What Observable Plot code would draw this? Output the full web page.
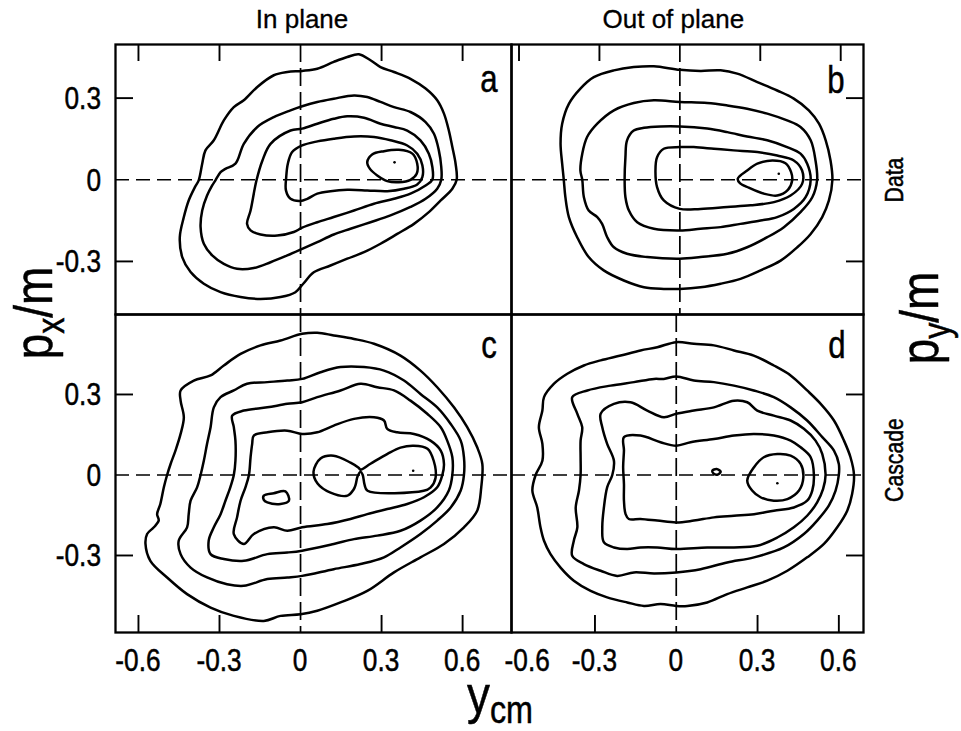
<!DOCTYPE html>
<html><head><meta charset="utf-8">
<script src="https://cdn.jsdelivr.net/npm/d3@7"></script>
<script src="https://cdn.jsdelivr.net/npm/@observablehq/plot@0.6"></script>
<style>
body{margin:0;background:#fff;}
#fig{position:relative;width:961px;height:731px;overflow:hidden;background:#fff;}
</style></head><body><div id="fig"></div><script>
// ---- tick values and labels ----
const xTickValues = [-0.6, -0.3, 0.3, 0.6];
const yTickValues = [0.3, -0.3];
const xTickLabels = ["-0.6", "-0.3", "0", "0.3", "0.6"];
const xTickLabelValues = [-0.6, -0.3, 0, 0.3, 0.6];
const yTickLabels = ["0.3", "0", "-0.3"];
const yTickLabelValues = [0.3, 0, -0.3];
const columnTitles = ["In plane", "Out of plane"];
const rowTitles = ["Data", "Cascade"];
const panelLetters = ["a", "b", "c", "d"];

// ---- panel a : data, in plane (contours, outermost first) ----
const a1 = [[0.216,0.461],[0.259,0.439],[0.296,0.414],[0.346,0.396],[0.407,0.371],[0.463,0.335],[0.506,0.292],[0.531,0.243],[0.549,0.181],[0.562,0.120],[0.574,0.059],[0.578,0],[0.562,-0.033],[0.519,-0.076],[0.475,-0.119],[0.420,-0.162],[0.358,-0.199],[0.296,-0.235],[0.235,-0.266],[0.173,-0.290],[0.111,-0.315],[0.049,-0.340],[0.010,-0.382],[-0.019,-0.413],[-0.074,-0.431],[-0.148,-0.438],[-0.222,-0.431],[-0.296,-0.413],[-0.358,-0.382],[-0.407,-0.339],[-0.438,-0.284],[-0.447,-0.211],[-0.432,-0.137],[-0.414,-0.076],[-0.391,-0.027],[-0.377,-0.002],[-0.364,0.059],[-0.352,0.108],[-0.321,0.145],[-0.284,0.218],[-0.247,0.267],[-0.210,0.292],[-0.160,0.341],[-0.099,0.384],[-0.049,0.396],[0.006,0.400],[0.062,0.408],[0.123,0.433],[0.173,0.451]];
const a2 = [[0.006,0.270],[0.062,0.286],[0.123,0.298],[0.198,0.310],[0.247,0.304],[0.296,0.286],[0.346,0.267],[0.407,0.249],[0.463,0.212],[0.494,0.169],[0.512,0.108],[0.521,0.047],[0.521,0],[0.506,-0.033],[0.463,-0.070],[0.407,-0.100],[0.333,-0.131],[0.259,-0.156],[0.185,-0.180],[0.123,-0.201],[0.062,-0.229],[0.006,-0.254],[-0.049,-0.278],[-0.111,-0.303],[-0.173,-0.324],[-0.235,-0.327],[-0.284,-0.309],[-0.327,-0.278],[-0.358,-0.235],[-0.370,-0.174],[-0.364,-0.113],[-0.346,-0.058],[-0.327,-0.021],[-0.315,-0.002],[-0.296,0.028],[-0.278,0.040],[-0.241,0.059],[-0.210,0.132],[-0.160,0.194],[-0.099,0.230],[-0.037,0.255]];
const a3 = [[0.006,0.188],[0.062,0.206],[0.123,0.224],[0.173,0.233],[0.235,0.228],[0.296,0.206],[0.346,0.194],[0.395,0.181],[0.444,0.145],[0.475,0.096],[0.488,0.047],[0.488,0],[0.463,-0.021],[0.407,-0.051],[0.346,-0.070],[0.272,-0.088],[0.198,-0.113],[0.123,-0.137],[0.062,-0.156],[0.006,-0.176],[-0.025,-0.192],[-0.086,-0.205],[-0.148,-0.201],[-0.185,-0.186],[-0.198,-0.162],[-0.185,-0.113],[-0.163,-0.002],[-0.141,0.071],[-0.111,0.132],[-0.037,0.181]];
const a4 = [[0.006,0.126],[0.062,0.141],[0.123,0.151],[0.198,0.159],[0.272,0.157],[0.333,0.145],[0.395,0.126],[0.432,0.096],[0.451,0.053],[0.451,0.010],[0.432,-0.017],[0.383,-0.033],[0.321,-0.042],[0.247,-0.039],[0.173,-0.037],[0.111,-0.042],[0.062,-0.051],[0.025,-0.070],[0,-0.078],[-0.037,-0.070],[-0.054,-0.039],[-0.053,0.010],[-0.047,0.059],[-0.031,0.102]];
const a5 = [[0.247,0.065],[0.265,0.093],[0.309,0.105],[0.364,0.110],[0.414,0.096],[0.432,0.059],[0.430,0.022],[0.407,0],[0.364,-0.009],[0.321,-0.005],[0.284,0.016],[0.257,0.040]];
const aDots = [[0.348,0.064]];

// ---- panel b : data, out of plane ----
const b1 = [[0,0.404],[0.077,0.400],[0.152,0.402],[0.214,0.390],[0.289,0.359],[0.363,0.328],[0.425,0.298],[0.481,0.255],[0.519,0.206],[0.544,0.145],[0.562,0.071],[0.569,0],[0.556,-0.076],[0.531,-0.137],[0.488,-0.199],[0.438,-0.248],[0.376,-0.297],[0.301,-0.333],[0.226,-0.364],[0.152,-0.382],[0.077,-0.395],[0,-0.401],[-0.060,-0.401],[-0.134,-0.395],[-0.209,-0.370],[-0.284,-0.333],[-0.340,-0.284],[-0.383,-0.211],[-0.414,-0.137],[-0.427,-0.064],[-0.433,0],[-0.439,0.059],[-0.445,0.132],[-0.439,0.206],[-0.414,0.279],[-0.371,0.335],[-0.321,0.377],[-0.246,0.402],[-0.172,0.414],[-0.097,0.417]];
const b2 = [[0,0.286],[-0.097,0.292],[-0.172,0.282],[-0.246,0.255],[-0.308,0.206],[-0.346,0.157],[-0.364,0.096],[-0.371,0.034],[-0.364,0],[-0.358,-0.064],[-0.340,-0.113],[-0.308,-0.137],[-0.290,-0.162],[-0.271,-0.211],[-0.246,-0.248],[-0.197,-0.272],[-0.122,-0.284],[0,-0.290],[0.077,-0.284],[0.177,-0.272],[0.251,-0.248],[0.326,-0.211],[0.388,-0.174],[0.450,-0.119],[0.494,-0.064],[0.512,0],[0.506,0.071],[0.488,0.145],[0.450,0.194],[0.400,0.218],[0.326,0.243],[0.251,0.261],[0.177,0.273],[0.102,0.282]];
const b3 = [[0,0.196],[-0.072,0.196],[-0.134,0.191],[-0.172,0.181],[-0.197,0.145],[-0.203,0.083],[-0.206,0],[-0.203,-0.064],[-0.190,-0.113],[-0.159,-0.156],[-0.097,-0.180],[0,-0.186],[0.077,-0.180],[0.152,-0.174],[0.226,-0.162],[0.301,-0.150],[0.363,-0.137],[0.425,-0.107],[0.469,-0.064],[0.488,0],[0.475,0.059],[0.450,0.096],[0.400,0.120],[0.326,0.145],[0.251,0.159],[0.177,0.175],[0.102,0.188]];
const b4 = [[0,0.120],[-0.060,0.114],[-0.085,0.083],[-0.091,0.034],[-0.085,-0.027],[-0.060,-0.076],[0,-0.107],[0.077,-0.107],[0.177,-0.100],[0.264,-0.094],[0.351,-0.082],[0.413,-0.058],[0.456,-0.015],[0.456,0.034],[0.425,0.071],[0.363,0.089],[0.289,0.102],[0.201,0.108],[0.127,0.114],[0.052,0.120]];
const b5 = [[0.216,0.004],[0.251,0.034],[0.289,0.059],[0.345,0.071],[0.394,0.061],[0.415,0.028],[0.419,-0.002],[0.403,-0.037],[0.363,-0.058],[0.313,-0.051],[0.257,-0.029],[0.224,-0.012]];
const bDots = [[0.369,0.022]];

// ---- panel c : cascade, in plane ----
const c1 = [[0.006,0.526],[0.062,0.530],[0.123,0.520],[0.198,0.507],[0.272,0.489],[0.370,0.445],[0.444,0.389],[0.506,0.327],[0.568,0.252],[0.617,0.178],[0.654,0.103],[0.673,0.041],[0.669,-0.046],[0.654,-0.133],[0.605,-0.195],[0.531,-0.257],[0.444,-0.307],[0.346,-0.363],[0.247,-0.432],[0.148,-0.475],[0.062,-0.506],[0,-0.519],[-0.074,-0.525],[-0.136,-0.544],[-0.247,-0.525],[-0.333,-0.494],[-0.420,-0.444],[-0.494,-0.382],[-0.556,-0.320],[-0.574,-0.257],[-0.568,-0.220],[-0.543,-0.195],[-0.525,-0.170],[-0.531,-0.146],[-0.519,-0.108],[-0.506,-0.046],[-0.494,0],[-0.481,0.041],[-0.463,0.091],[-0.444,0.153],[-0.432,0.215],[-0.444,0.277],[-0.444,0.315],[-0.395,0.352],[-0.333,0.371],[-0.284,0.408],[-0.222,0.451],[-0.148,0.483],[-0.074,0.501]];
const c2 = [[0.006,0.358],[0.074,0.383],[0.148,0.402],[0.235,0.402],[0.309,0.389],[0.383,0.352],[0.444,0.302],[0.506,0.252],[0.556,0.190],[0.593,0.128],[0.605,0.066],[0.605,0],[0.593,-0.058],[0.556,-0.121],[0.506,-0.170],[0.444,-0.220],[0.370,-0.270],[0.309,-0.307],[0.222,-0.332],[0.123,-0.351],[0.006,-0.376],[-0.049,-0.382],[-0.123,-0.388],[-0.210,-0.413],[-0.272,-0.407],[-0.346,-0.382],[-0.407,-0.345],[-0.444,-0.295],[-0.451,-0.245],[-0.420,-0.195],[-0.414,-0.146],[-0.407,-0.096],[-0.383,-0.046],[-0.370,0],[-0.358,0.053],[-0.346,0.116],[-0.333,0.178],[-0.321,0.252],[-0.296,0.290],[-0.247,0.315],[-0.198,0.340],[-0.123,0.346],[-0.049,0.352]];
const c3 = [[-0.253,0.221],[-0.210,0.240],[-0.123,0.252],[-0.049,0.265],[0.006,0.271],[0.062,0.290],[0.148,0.315],[0.222,0.340],[0.284,0.327],[0.346,0.315],[0.407,0.277],[0.469,0.228],[0.519,0.178],[0.543,0.128],[0.562,0.066],[0.562,0],[0.549,-0.058],[0.506,-0.121],[0.444,-0.170],[0.370,-0.208],[0.284,-0.226],[0.198,-0.239],[0.123,-0.257],[0.006,-0.282],[-0.049,-0.289],[-0.123,-0.295],[-0.210,-0.320],[-0.284,-0.313],[-0.333,-0.295],[-0.340,-0.245],[-0.321,-0.195],[-0.296,-0.146],[-0.278,-0.096],[-0.260,-0.046],[-0.247,0],[-0.241,0.053],[-0.241,0.128],[-0.247,0.178]];
const c4 = [[-0.173,0.147],[-0.123,0.159],[-0.049,0.165],[0.006,0.153],[0.062,0.159],[0.123,0.184],[0.198,0.209],[0.272,0.215],[0.309,0.203],[0.321,0.172],[0.358,0.159],[0.420,0.153],[0.481,0.128],[0.519,0.091],[0.531,0.041],[0.525,0],[0.506,-0.046],[0.457,-0.083],[0.395,-0.108],[0.321,-0.127],[0.247,-0.146],[0.185,-0.164],[0.099,-0.183],[0.006,-0.195],[-0.049,-0.208],[-0.099,-0.195],[-0.173,-0.220],[-0.210,-0.257],[-0.247,-0.220],[-0.235,-0.158],[-0.222,-0.096],[-0.204,-0.046],[-0.191,0],[-0.185,0.066],[-0.179,0.116]];
const c5 = [[0.048,0.012],[0.074,0.061],[0.122,0.072],[0.185,0.046],[0.215,0.027],[0.222,0.020],[0.259,0.042],[0.322,0.079],[0.370,0.102],[0.419,0.109],[0.470,0.098],[0.493,0.053],[0.500,-0.010],[0.481,-0.047],[0.456,-0.059],[0.248,-0.059],[0.237,-0.036],[0.230,0.001],[0.222,0.012],[0.211,-0.006],[0.204,-0.036],[0.196,-0.055],[0.174,-0.077],[0.111,-0.066],[0.063,-0.032]];
const c6 = [[-0.136,-0.077],[-0.099,-0.068],[-0.056,-0.061],[-0.043,-0.096],[-0.074,-0.108],[-0.123,-0.102],[-0.136,-0.093]];
const cDots = [[0.417,0.016]];

// ---- panel d : cascade, out of plane ----
const d1 = [[0,0.495],[0.065,0.489],[0.139,0.483],[0.213,0.464],[0.286,0.445],[0.360,0.408],[0.422,0.371],[0.483,0.315],[0.533,0.265],[0.582,0.203],[0.619,0.128],[0.643,0.066],[0.656,0],[0.649,-0.071],[0.631,-0.133],[0.594,-0.195],[0.545,-0.257],[0.483,-0.307],[0.410,-0.357],[0.336,-0.394],[0.262,-0.419],[0.188,-0.444],[0.114,-0.475],[0.041,-0.488],[0,-0.488],[-0.058,-0.481],[-0.119,-0.488],[-0.181,-0.475],[-0.255,-0.456],[-0.316,-0.432],[-0.378,-0.394],[-0.427,-0.345],[-0.464,-0.295],[-0.488,-0.245],[-0.501,-0.195],[-0.513,-0.121],[-0.531,-0.058],[-0.519,0],[-0.494,0.053],[-0.494,0.116],[-0.507,0.178],[-0.494,0.240],[-0.488,0.290],[-0.451,0.340],[-0.402,0.377],[-0.341,0.408],[-0.279,0.427],[-0.205,0.445],[-0.132,0.464],[-0.070,0.476]];
const d2 = [[0,0.367],[0.065,0.352],[0.139,0.346],[0.213,0.333],[0.286,0.315],[0.360,0.290],[0.422,0.252],[0.483,0.203],[0.539,0.141],[0.582,0.091],[0.600,0.041],[0.600,0],[0.588,-0.058],[0.563,-0.114],[0.520,-0.170],[0.471,-0.220],[0.397,-0.270],[0.287,-0.307],[0.188,-0.326],[0.090,-0.351],[0,-0.363],[-0.082,-0.367],[-0.156,-0.363],[-0.218,-0.376],[-0.279,-0.357],[-0.341,-0.332],[-0.384,-0.301],[-0.378,-0.245],[-0.365,-0.195],[-0.371,-0.121],[-0.359,-0.058],[-0.353,0],[-0.353,0.066],[-0.353,0.128],[-0.347,0.178],[-0.365,0.228],[-0.384,0.290],[-0.328,0.315],[-0.242,0.333],[-0.156,0.346],[-0.082,0.358],[-0.046,0.358]];
const d3c = [[0,0.228],[0.065,0.240],[0.139,0.252],[0.213,0.277],[0.262,0.271],[0.299,0.240],[0.360,0.221],[0.422,0.203],[0.471,0.172],[0.514,0.128],[0.539,0.078],[0.551,0],[0.542,-0.052],[0.520,-0.102],[0.483,-0.152],[0.434,-0.195],[0.373,-0.233],[0.299,-0.264],[0.213,-0.270],[0.114,-0.270],[0,-0.276],[-0.070,-0.270],[-0.132,-0.270],[-0.181,-0.276],[-0.230,-0.270],[-0.267,-0.251],[-0.273,-0.195],[-0.267,-0.121],[-0.255,-0.046],[-0.236,0],[-0.230,0.053],[-0.255,0.116],[-0.273,0.178],[-0.279,0.228],[-0.230,0.265],[-0.169,0.271],[-0.107,0.240],[-0.046,0.215]];
const d4 = [[0,0.109],[0.053,0.122],[0.139,0.134],[0.213,0.147],[0.286,0.153],[0.360,0.147],[0.422,0.128],[0.459,0.103],[0.496,0.066],[0.508,0],[0.502,-0.058],[0.483,-0.096],[0.434,-0.121],[0.360,-0.133],[0.287,-0.146],[0.213,-0.152],[0.139,-0.158],[0.065,-0.170],[0,-0.177],[-0.070,-0.170],[-0.132,-0.164],[-0.175,-0.164],[-0.187,-0.146],[-0.193,-0.096],[-0.193,-0.034],[-0.196,0.029],[-0.193,0.091],[-0.193,0.141],[-0.132,0.147],[-0.058,0.122]];
const d5 = [[0.262,-0.021],[0.287,0.029],[0.323,0.066],[0.373,0.078],[0.422,0.072],[0.459,0.041],[0.469,-0.009],[0.453,-0.058],[0.410,-0.090],[0.360,-0.096],[0.311,-0.083],[0.280,-0.058]];
const d6 = [[0.133,0.016],[0.149,0.022],[0.164,0.012],[0.151,0.001],[0.137,0.006]];
const dDots = [[0.373,-0.031]];

// ---- panel definitions (frames in page pixels, domains in data units) ----
const leftX = [-0.685, 0.781];
const panels = [
  {name:"a", contours:[a1,a2,a3,a4,a5], dots:aDots, left:115, right:511, top:44, bottom:314, xDomain:leftX, yDomain:[-0.495,0.497], tickTop:true, tickLeft:true},
  {name:"b", contours:[b1,b2,b3,b4,b5], dots:bDots, left:511, right:863, top:44, bottom:314, xDomain:[-0.628,0.685], yDomain:[-0.495,0.497], tickTop:true, tickRight:true},
  {name:"c", contours:[c1,c2,c3,c4,c5,c6], dots:cDots, left:115, right:511, top:314, bottom:632, xDomain:leftX, yDomain:[-0.587,0.598], tickBottom:true, tickLeft:true},
  {name:"d", contours:[d1,d2,d3c,d4,d5,d6], dots:dDots, left:511, right:863, top:314, bottom:632, xDomain:[-0.608,0.691], yDomain:[-0.587,0.598], tickBottom:true, tickRight:true}
];

const fig = document.getElementById("fig");
const M = 4, TL = 17, K = "black";
panels.forEach(p => {
  const rows = [];
  p.contours.forEach((pts, i) => pts.forEach(([x, y]) => rows.push({id: i, x, y})));
  const W = p.right - p.left, H = p.bottom - p.top;
  const xt = xTickValues.filter(v => v > p.xDomain[0] + 0.02 && v < p.xDomain[1] - 0.02);
  const marks = [
    Plot.ruleX([0], {stroke: K, strokeWidth: 1.7, strokeDasharray: "18,6"}),
    Plot.ruleY([0], {stroke: K, strokeWidth: 1.7, strokeDasharray: "14,7"}),
    Plot.line(rows, {x: "x", y: "y", z: "id", curve: "catmull-rom-closed", stroke: K, strokeWidth: 2.5, strokeLinejoin: "round"}),
    Plot.dot(p.dots, {x: d => d[0], y: d => d[1], r: 1.3, fill: K, stroke: null})
  ];
  if (p.tickTop) marks.push(Plot.ruleX(xt, {insetBottom: H - TL, stroke: K, strokeWidth: 1.9}));
  if (p.tickBottom) marks.push(Plot.ruleX(xt, {insetTop: H - TL, stroke: K, strokeWidth: 1.9}));
  if (p.tickLeft) marks.push(Plot.ruleY(yTickValues, {insetRight: W - TL - 1, stroke: K, strokeWidth: 1.9}));
  if (p.tickRight) marks.push(Plot.ruleY(yTickValues, {insetLeft: W - TL, stroke: K, strokeWidth: 1.9}));
  marks.push(Plot.frame({stroke: K, strokeWidth: 2.3}));
  const svg = Plot.plot({
    width: W + 2 * M, height: H + 2 * M,
    marginTop: M, marginRight: M, marginBottom: M, marginLeft: M,
    x: {domain: p.xDomain, axis: null},
    y: {domain: p.yDomain, axis: null},
    marks
  });
  svg.style.position = "absolute";
  svg.style.left = (p.left - M) + "px";
  svg.style.top = (p.top - M) + "px";
  svg.style.background = "transparent";
  svg.style.overflow = "visible";
  svg.style.maxWidth = "none";
  fig.appendChild(svg);
  p.sx = v => p.left - M + svg.scale("x").apply(v);
  p.sy = v => p.top - M + svg.scale("y").apply(v);
});

// ---- text overlay ----
const ov = d3.select(fig).append("svg")
  .attr("width", 961).attr("height", 731)
  .style("position", "absolute").style("left", "0px").style("top", "0px")
  .style("pointer-events", "none")
  .attr("font-family", "'Liberation Sans', Arial, Helvetica, sans-serif")
  .attr("fill", "black").attr("stroke", "black").attr("stroke-width", 0.5);
function txt(str, x, y, {size = 32, anchor = "middle", rot = 0, sx = 0.82} = {}) {
  const t = ov.append("text")
    .attr("transform", `translate(${x},${y}) rotate(${rot}) scale(${sx},1)`)
    .attr("text-anchor", anchor).attr("font-size", size);
  if (str != null) t.text(str);
  return t;
}
function subLabel(main, sub, x, y, rot) {
  const t = txt(null, x, y, {size: 54, rot, sx: 0.85});
  t.append("tspan").text(main);
  t.append("tspan").attr("font-size", 38).attr("dy", 12).text(sub);
  t.append("tspan").attr("dy", -12).text("/m");
  return t;
}

// column titles
txt(columnTitles[0], panels[0].sx(0) + 2, 28, {size: 26, sx: 1}).attr("stroke-width", 0.3);
txt(columnTitles[1], panels[1].sx(0) - 6, 28, {size: 26, sx: 1}).attr("stroke-width", 0.3);
// row titles
txt(rowTitles[0], 903, 180, {size: 25, rot: -90, sx: 0.85});
txt(rowTitles[1], 903, 460, {size: 25, rot: -90, sx: 0.85});
// panel letters
txt(panelLetters[0], 489, 92, {size: 38});
txt(panelLetters[1], 836, 93, {size: 38});
txt(panelLetters[2], 489, 358, {size: 38});
txt(panelLetters[3], 837, 358, {size: 38});
// y tick labels (left column)
[panels[0], panels[2]].forEach(p => {
  yTickLabels.forEach((s, i) => txt(s, 101, p.sy(yTickLabelValues[i]) + 11.5, {anchor: "end"}));
});
// x tick labels (bottom row)
[panels[2], panels[3]].forEach((p, j) => {
  xTickLabels.forEach((s, i) => {
    const v = xTickLabelValues[i];
    const shift = (j === 1 && v === -0.6) ? 14 : 0;
    txt(s, p.sx(v) + shift, 671, {});
  });
});
// axis titles
subLabel("p", "x", 52, 313, -90);
subLabel("p", "y", 938, 318, -90);
const yc = txt(null, 500, 713, {size: 54, sx: 0.85});
yc.append("tspan").text("y");
yc.append("tspan").attr("font-size", 38).attr("dy", 10).text("cm");
</script></body></html>
